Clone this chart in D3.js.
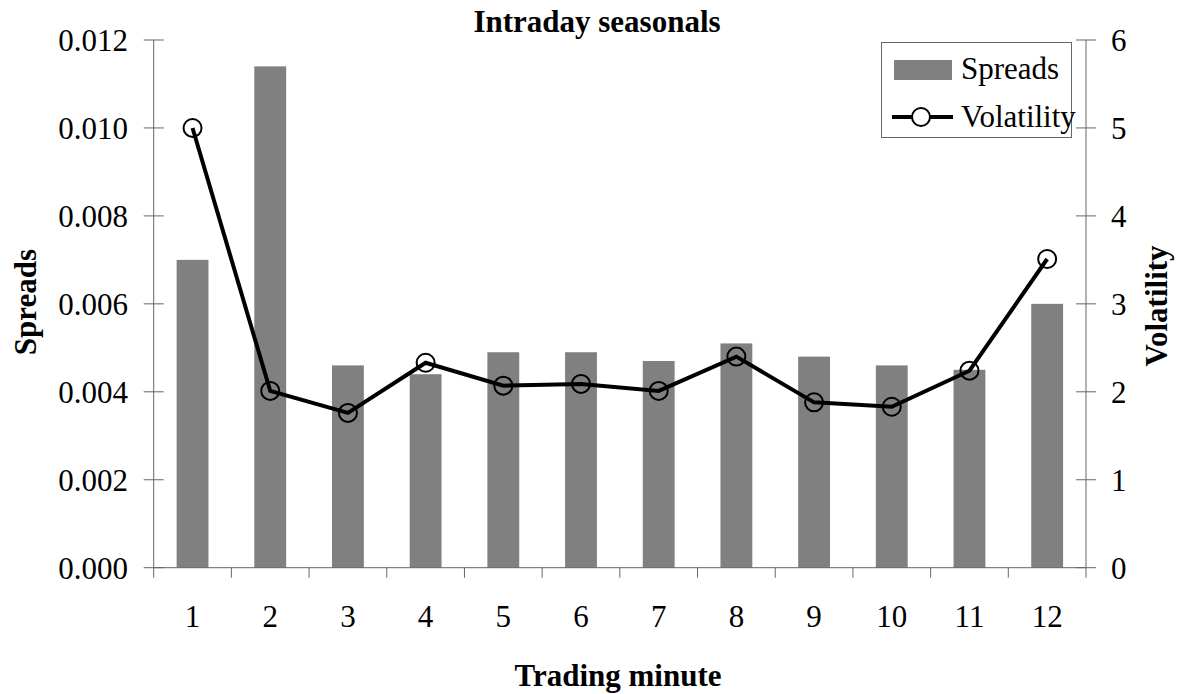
<!DOCTYPE html>
<html>
<head>
<meta charset="utf-8">
<script src="https://cdn.jsdelivr.net/npm/d3@7"></script>
<style>
  body { margin: 0; background: #fff; }
</style>
</head>
<body>
<svg id="chart" width="1177" height="694" style="font-family: 'Liberation Serif', 'DejaVu Serif', serif;"></svg>
<script>
var width = 1177
var height = 694

// data
var minutes = ["1","2","3","4","5","6","7","8","9","10","11","12"]
var spreads = [0.0070, 0.0114, 0.0046, 0.0044, 0.0049, 0.0049, 0.0047, 0.0051, 0.0048, 0.0046, 0.0045, 0.0060]
var volatility = [5.0, 2.01, 1.76, 2.33, 2.07, 2.09, 2.01, 2.40, 1.88, 1.83, 2.24, 3.51]
var spreadTicks = [0, 0.002, 0.004, 0.006, 0.008, 0.010, 0.012]
var volTicks = [0, 1, 2, 3, 4, 5, 6]

var plotLeft = 153.7, plotRight = 1086, plotTop = 40, plotBottom = 567.7
var axisColor = "#666"
var serif = "'Liberation Serif', 'DejaVu Serif', serif"

var svg = d3.select("#chart")

var x = d3.scaleBand()
    .domain(minutes)
    .range([plotLeft, plotRight])
    .paddingInner(0.59)
    .paddingOuter(0.295)

var xEdge = d3.scaleLinear()
    .domain([0, minutes.length])
    .range([plotLeft, plotRight])

var ySpread = d3.scaleLinear()
    .domain([0, 0.012])
    .range([plotBottom, plotTop])

var yVol = d3.scaleLinear()
    .domain([0, 6])
    .range([plotBottom, plotTop])

// bars
svg.append("g")
    .selectAll("rect")
    .data(spreads)
    .enter()
    .append("rect")
        .attr("x", (d, i) => x(minutes[i]))
        .attr("y", d => ySpread(d))
        .attr("width", x.bandwidth())
        .attr("height", d => plotBottom - ySpread(d))
        .attr("fill", "#808080")

// axes
var axes = svg.append("g")
    .attr("stroke", axisColor)
    .attr("stroke-width", 1)

axes.append("line")
    .attr("x1", plotLeft).attr("x2", plotLeft)
    .attr("y1", plotTop).attr("y2", plotBottom)
axes.append("line")
    .attr("x1", plotRight).attr("x2", plotRight)
    .attr("y1", plotTop).attr("y2", plotBottom)
axes.append("line")
    .attr("x1", plotLeft).attr("x2", plotRight)
    .attr("y1", plotBottom).attr("y2", plotBottom)

axes.selectAll(".ltick")
    .data(spreadTicks)
    .enter()
    .append("line")
        .attr("x1", plotLeft - 10).attr("x2", plotLeft + 10)
        .attr("y1", d => ySpread(d)).attr("y2", d => ySpread(d))

axes.selectAll(".rtick")
    .data(volTicks)
    .enter()
    .append("line")
        .attr("x1", plotRight - 10).attr("x2", plotRight + 10)
        .attr("y1", d => yVol(d)).attr("y2", d => yVol(d))

axes.selectAll(".xtick")
    .data(d3.range(minutes.length + 1))
    .enter()
    .append("line")
        .attr("x1", d => xEdge(d)).attr("x2", d => xEdge(d))
        .attr("y1", plotBottom).attr("y2", plotBottom + 10)

// tick labels
svg.append("g")
    .selectAll("text")
    .data(spreadTicks)
    .enter()
    .append("text")
        .attr("x", 128)
        .attr("y", d => ySpread(d))
        .attr("dy", "0.36em")
        .attr("text-anchor", "end")
        .style("font-family", serif)
        .style("font-size", "31px")
        .text(d => d3.format(".3f")(d))

svg.append("g")
    .selectAll("text")
    .data(volTicks)
    .enter()
    .append("text")
        .attr("x", 1111)
        .attr("y", d => yVol(d))
        .attr("dy", "0.36em")
        .style("font-family", serif)
        .style("font-size", "31px")
        .text(d => d)

svg.append("g")
    .selectAll("text")
    .data(minutes)
    .enter()
    .append("text")
        .attr("x", d => x(d) + x.bandwidth() / 2)
        .attr("y", 627)
        .attr("text-anchor", "middle")
        .style("font-family", serif)
        .style("font-size", "31px")
        .text(d => d)

// volatility line
var line = d3.line()
    .x((d, i) => x(minutes[i]) + x.bandwidth() / 2)
    .y(d => yVol(d))

svg.append("path")
    .datum(volatility)
    .attr("d", line)
    .attr("fill", "none")
    .attr("stroke", "#000")
    .attr("stroke-width", 4)

svg.append("g")
    .selectAll("circle")
    .data(volatility)
    .enter()
    .append("circle")
        .attr("cx", (d, i) => x(minutes[i]) + x.bandwidth() / 2)
        .attr("cy", d => yVol(d))
        .attr("r", 9)
        .attr("fill", "none")
        .attr("stroke", "#000")
        .attr("stroke-width", 2)

// titles
function boldText(txt) {
    return svg.append("text")
        .attr("text-anchor", "middle")
        .style("font-family", serif)
        .style("font-size", "31px")
        .style("font-weight", "bold")
        .text(txt)
}

boldText("Intraday seasonals")
    .attr("x", 597)
    .attr("y", 32)

boldText("Trading minute")
    .attr("x", 618)
    .attr("y", 686)

boldText("Spreads")
    .attr("transform", "translate(36,302) rotate(-90)")

boldText("Volatility")
    .attr("transform", "translate(1167,306) rotate(-90)")

// legend
var legend = svg.append("g")

legend.append("rect")
    .attr("x", 881.5).attr("y", 42.5)
    .attr("width", 190).attr("height", 95)
    .attr("fill", "#fff")
    .attr("stroke", axisColor)

legend.append("rect")
    .attr("x", 894).attr("y", 60)
    .attr("width", 58).attr("height", 20)
    .attr("fill", "#808080")

legend.append("text")
    .attr("x", 961).attr("y", 79)
    .style("font-family", serif)
    .style("font-size", "31px")
    .text("Spreads")

legend.append("line")
    .attr("x1", 892).attr("x2", 953)
    .attr("y1", 117).attr("y2", 117)
    .attr("stroke", "#000")
    .attr("stroke-width", 4)

legend.append("circle")
    .attr("cx", 921).attr("cy", 117)
    .attr("r", 9)
    .attr("fill", "#fff")
    .attr("stroke", "#000")
    .attr("stroke-width", 2)

legend.append("text")
    .attr("x", 961).attr("y", 127)
    .style("font-family", serif)
    .style("font-size", "31px")
    .text("Volatility")
</script>
</body>
</html>
